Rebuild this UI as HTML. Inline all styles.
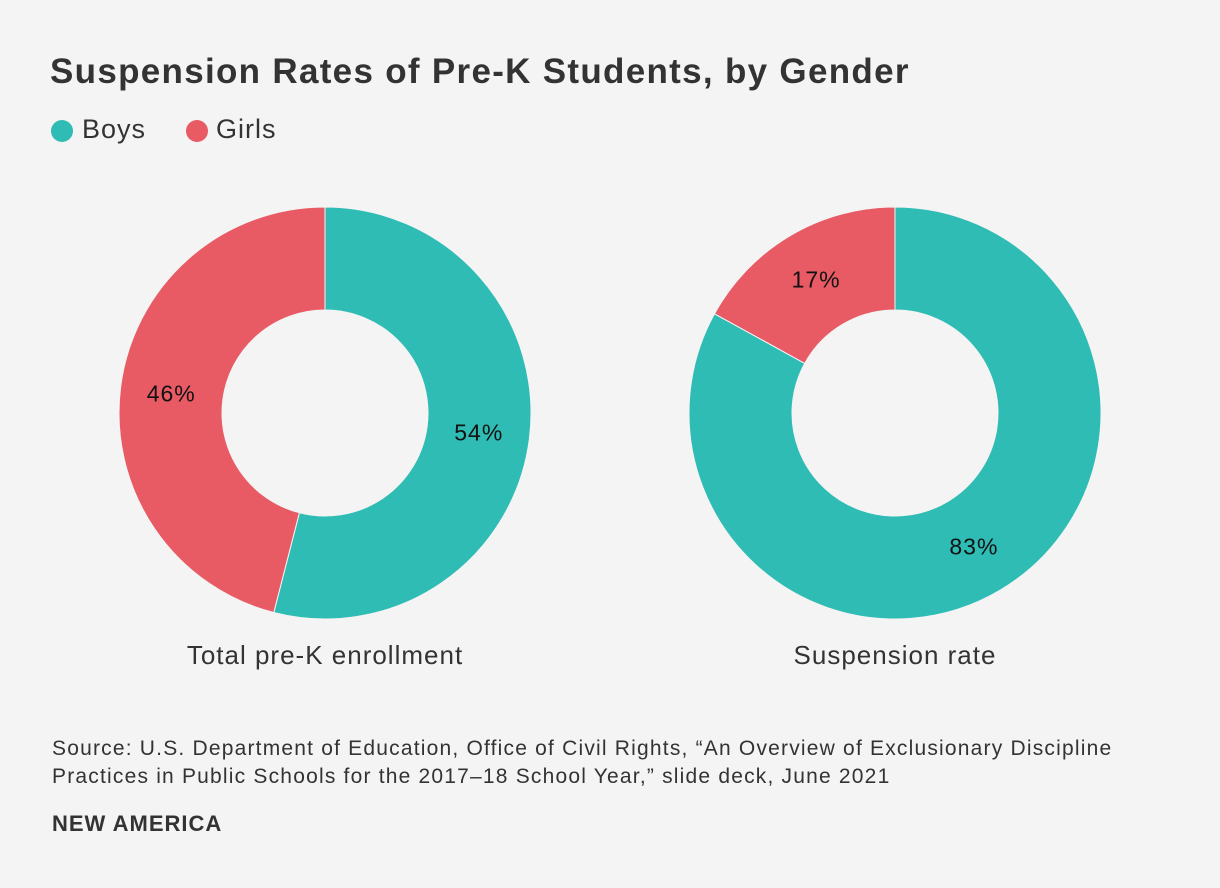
<!DOCTYPE html>
<html><head><meta charset="utf-8"><style>
html,body{margin:0;padding:0;background:#f4f4f4;}
body{width:1220px;height:888px;position:relative;font-family:"Liberation Sans",sans-serif;color:#333;overflow:hidden;}
.t{position:absolute;white-space:nowrap;}
</style></head><body>
<div class="t" style="left:50px;top:52px;font-size:35px;font-weight:bold;letter-spacing:1.3px;">Suspension Rates of Pre-K Students, by Gender</div>
<div>
<div style="position:absolute;left:51px;top:120px;width:22px;height:22px;border-radius:50%;background:#2ebcb4;"></div>
<div class="t" style="left:82px;top:114px;font-size:27px;letter-spacing:1px;">Boys</div>
<div style="position:absolute;left:186px;top:120px;width:22px;height:22px;border-radius:50%;background:#e85b65;"></div>
<div class="t" style="left:216px;top:114px;font-size:27px;letter-spacing:1px;">Girls</div>
</div>
<svg id="c" width="1220" height="888" style="position:absolute;left:0;top:0;"></svg>
<div class="t" style="left:52px;top:735px;font-size:21px;line-height:28px;letter-spacing:1.2px;">Source: U.S. Department of Education, Office of Civil Rights, “An Overview of Exclusionary Discipline<br>Practices in Public Schools for the 2017–18 School Year,” slide deck, June 2021</div>
<div class="t" style="left:52px;top:811px;font-size:22px;font-weight:bold;letter-spacing:1px;">NEW AMERICA</div>
<script>
const charts = ["Total pre-K enrollment","Suspension rate"];
const boysValues = [54, 83];
const girlsValues = [46, 17];
const colors = {boys:"#2ebcb4", girls:"#e85b65"};
const svg = document.getElementById('c');
const NS = "http://www.w3.org/2000/svg";
const centers = [325, 895], cy = 413, R = 206, r = 103, LR = 155;
function pt(a, rad, cx){return [cx + rad*Math.sin(a), cy - rad*Math.cos(a)];}
function arc(cx, a0, a1){
  const large = (a1-a0) > Math.PI ? 1 : 0;
  const p0=pt(a0,R,cx),p1=pt(a1,R,cx),q1=pt(a1,r,cx),q0=pt(a0,r,cx);
  return `M${p0}A${R},${R} 0 ${large} 1 ${p1}L${q1}A${r},${r} 0 ${large} 0 ${q0}Z`;
}
charts.forEach((name,i)=>{
  const cx = centers[i];
  const segs = [["boys",boysValues[i]],["girls",girlsValues[i]]];
  const total = segs.reduce((s,d)=>s+d[1],0);
  let a = 0;
  segs.forEach(([k,v])=>{
    const a1 = a + v/total*2*Math.PI;
    const p = document.createElementNS(NS,'path');
    p.setAttribute('d', arc(cx,a,a1));
    p.setAttribute('fill', colors[k]);
    p.setAttribute('stroke','#f4f4f4');
    p.setAttribute('stroke-width','1');
    
    
    svg.appendChild(p);
    const m = (a+a1)/2, lp = pt(m,LR,cx);
    const t = document.createElementNS(NS,'text');
    t.setAttribute('x', lp[0]); t.setAttribute('y', lp[1]+8);
    t.setAttribute('text-anchor','middle');
    t.setAttribute('font-size','23');
    t.setAttribute('letter-spacing','1');
    t.setAttribute('fill','#111');
    t.setAttribute('font-family','"Liberation Sans", sans-serif');
    t.textContent = v + '%';
    
    
    svg.appendChild(t);
    a = a1;
  });
  const lab = document.createElementNS(NS,'text');
  lab.setAttribute('x', cx); lab.setAttribute('y', 664);
  lab.setAttribute('text-anchor','middle');
  lab.setAttribute('font-size','26');
  lab.setAttribute('letter-spacing','1');
  lab.setAttribute('fill','#333');
  lab.setAttribute('font-family','"Liberation Sans", sans-serif');
  lab.textContent = name;
  
  
  svg.appendChild(lab);
});
</script>
</body></html>
